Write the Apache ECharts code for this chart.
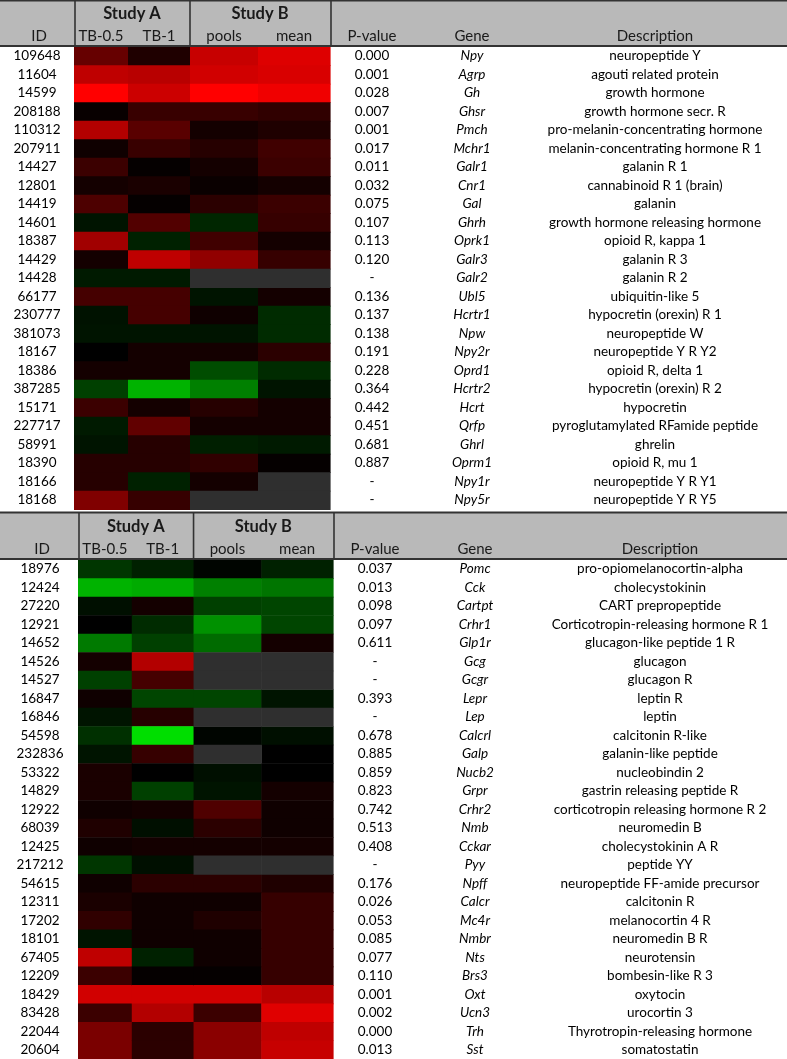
<!DOCTYPE html>
<html><head><meta charset="utf-8">
<script src="https://cdn.jsdelivr.net/npm/echarts/dist/echarts.min.js"></script>
<style>html,body{margin:0;padding:0;background:#fff}#c{width:787px;height:1059px}</style>
</head><body><div id="c"></div>
<script>
// ---------- DATA ----------
const columns = ['TB-0.5', 'TB-1', 'pools', 'mean'];
const studies = ['Study A', 'Study B'];
const textHeaders = ['ID', 'P-value', 'Gene', 'Description'];

const topIds = ['109648','11604','14599','208188','110312','207911','14427','12801','14419','14601','18387','14429','14428','66177','230777','381073','18167','18386','387285','15171','227717','58991','18390','18166','18168'];
const topP = ['0.000','0.001','0.028','0.007','0.001','0.017','0.011','0.032','0.075','0.107','0.113','0.120','-','0.136','0.137','0.138','0.191','0.228','0.364','0.442','0.451','0.681','0.887','-','-'];
const topGenes = ['Npy','Agrp','Gh','Ghsr','Pmch','Mchr1','Galr1','Cnr1','Gal','Ghrh','Oprk1','Galr3','Galr2','Ubl5','Hcrtr1','Npw','Npy2r','Oprd1','Hcrtr2','Hcrt','Qrfp','Ghrl','Oprm1','Npy1r','Npy5r'];
const topDesc = ['neuropeptide Y','agouti related protein','growth hormone','growth hormone secr. R','pro-melanin-concentrating hormone','melanin-concentrating hormone R 1','galanin R 1','cannabinoid R 1 (brain)','galanin','growth hormone releasing hormone','opioid R, kappa 1','galanin R 3','galanin R 2','ubiquitin-like 5','hypocretin (orexin) R 1','neuropeptide W','neuropeptide Y R Y2','opioid R, delta 1','hypocretin (orexin) R 2','hypocretin','pyroglutamylated RFamide peptide','ghrelin','opioid R, mu 1','neuropeptide Y R Y1','neuropeptide Y R Y5'];
// signed intensity: + red, - green, null = not measured
const topTB05 = [0.40,0.75,1.00,0.03,0.70,0.06,0.23,0.08,0.30,-0.08,0.63,0.08,-0.10,0.27,-0.07,-0.08,0.00,0.08,-0.25,0.23,-0.10,-0.08,0.15,0.15,0.50];
const topTB1  = [0.12,0.72,0.80,0.22,0.35,0.22,0.02,0.10,0.02,0.32,-0.13,0.75,-0.10,0.27,0.27,-0.08,0.08,0.08,-0.70,0.08,0.38,0.15,0.15,-0.13,0.21];
const topPools= [0.78,0.82,1.00,0.22,0.08,0.15,0.08,0.04,0.17,-0.15,0.25,0.57,null,-0.08,0.06,-0.08,0.08,-0.30,-0.50,0.15,0.08,-0.12,0.19,0.08,null];
const topMean = [0.87,0.85,0.94,0.19,0.12,0.25,0.23,0.08,0.23,0.21,0.08,0.21,null,0.08,-0.17,-0.17,0.17,-0.17,-0.08,0.08,0.08,-0.10,0.02,null,null];

const botIds = ['18976','12424','27220','12921','14652','14526','14527','16847','16846','54598','232836','53322','14829','12922','68039','12425','217212','54615','12311','17202','18101','67405','12209','18429','83428','22044','20604'];
const botP = ['0.037','0.013','0.098','0.097','0.611','-','-','0.393','-','0.678','0.885','0.859','0.823','0.742','0.513','0.408','-','0.176','0.026','0.053','0.085','0.077','0.110','0.001','0.002','0.000','0.013'];
const botGenes = ['Pomc','Cck','Cartpt','Crhr1','Glp1r','Gcg','Gcgr','Lepr','Lep','Calcrl','Galp','Nucb2','Grpr','Crhr2','Nmb','Cckar','Pyy','Npff','Calcr','Mc4r','Nmbr','Nts','Brs3','Oxt','Ucn3','Trh','Sst'];
const botDesc = ['pro-opiomelanocortin-alpha','cholecystokinin','CART prepropeptide','Corticotropin-releasing hormone R 1','glucagon-like peptide 1 R','glucagon','glucagon R','leptin R','leptin','calcitonin R-like','galanin-like peptide','nucleobindin 2','gastrin releasing peptide R','corticotropin releasing hormone R 2','neuromedin B','cholecystokinin A R','peptide YY','neuropeptide FF-amide precursor','calcitonin R','melanocortin 4 R','neuromedin B R','neurotensin','bombesin-like R 3','oxytocin','urocortin 3','Thyrotropin-releasing hormone','somatostatin'];
const botTB05 = [-0.21,-0.70,-0.06,0.00,-0.48,0.08,-0.25,0.06,-0.08,-0.19,-0.08,0.10,0.10,0.06,0.12,0.06,-0.21,0.06,0.10,0.19,-0.08,0.75,0.23,0.82,0.23,0.48,0.48];
const botTB1  = [-0.13,-0.67,0.08,-0.17,-0.25,0.70,0.27,-0.27,0.15,-0.87,0.21,0.00,-0.25,0.08,-0.06,0.08,-0.06,0.17,0.06,0.06,0.06,-0.13,0.02,0.82,0.70,0.17,0.17];
const botPools= [-0.02,-0.50,-0.25,-0.57,-0.42,null,null,-0.27,null,-0.02,null,-0.06,-0.08,0.31,0.17,0.08,null,0.17,0.06,0.12,0.06,0.06,0.02,0.82,0.23,0.54,0.54];
const botMean = [-0.13,-0.46,-0.27,-0.27,0.08,null,null,-0.08,null,-0.06,0.00,0.00,0.08,0.06,0.06,0.08,null,0.12,0.21,0.21,0.21,0.21,0.21,0.72,0.88,0.75,0.78];

// ---------- LAYOUT ----------
const FONT = 'Lato, "Open Sans", sans-serif';
const EDGES = [0, 54, 116, 184, 256];   // relative column boundaries of the heat block
const panels = [
  { ids: topIds, p: topP, genes: topGenes, desc: topDesc, cols: [topTB05, topTB1, topPools, topMean],
    left: 74, top: 46.8, width: 256, headTop: 0, headBot: 46, idC: 37, pC: 372, gC: 472, dC: 655 },
  { ids: botIds, p: botP, genes: botGenes, desc: botDesc, cols: [botTB05, botTB1, botPools, botMean],
    left: 78, top: 559.8, width: 255, headTop: 512, headBot: 559, idC: 40, pC: 375, gC: 475, dC: 660 }
];
const ROWH = 18.5;

const chart = echarts.init(document.getElementById('c'), null, { renderer: 'canvas' });

const grids = [], xAxes = [], yAxes = [], series = [];
panels.forEach((P, g) => {
  const n = P.ids.length;
  grids.push({ left: P.left, top: P.top, width: P.width, height: n * ROWH, containLabel: false });
  xAxes.push({ gridIndex: g, type: 'value', min: 0, max: EDGES[EDGES.length - 1], show: false });
  const right = P.left + P.width;
  const base = { gridIndex: g, type: 'category', inverse: true, axisLine: { show: false }, axisTick: { show: false }, splitLine: { show: false } };
  const lab = { interval: 0, align: 'center', fontSize: 13.5, color: '#000', fontFamily: FONT };
  P.yStart = yAxes.length;
  yAxes.push(Object.assign({}, base, { data: P.ids, position: 'left', axisLabel: Object.assign({}, lab, { margin: P.left - P.idC }) }));
  yAxes.push(Object.assign({}, base, { data: P.p, position: 'right', axisLabel: Object.assign({}, lab, { margin: P.pC - right }) }));
  yAxes.push(Object.assign({}, base, { data: P.genes, position: 'right', axisLabel: Object.assign({}, lab, { margin: P.gC - right, fontStyle: 'italic' }) }));
  yAxes.push(Object.assign({}, base, { data: P.desc, position: 'right', axisLabel: Object.assign({}, lab, { margin: P.dC - right }) }));

  const heat = [], missing = [];
  P.cols.forEach((arr, c) => arr.forEach((v, r) => {
    if (v === null) missing.push([c, r]); else heat.push([c, r, v]);
  }));
  const render = (fillFn) => (params, api) => {
    const c = api.value(0), r = api.value(1);
    const p0 = api.coord([EDGES[c], r]);
    const p1 = api.coord([EDGES[c + 1], r]);
    const h = api.size([0, 1])[1];
    return { type: 'rect', shape: { x: p0[0], y: p0[1] - h / 2, width: p1[0] - p0[0] + 0.6, height: h + 0.6 },
             style: { fill: fillFn(api) } };
  };
  series.push({ type: 'custom', name: 'heat' + g, xAxisIndex: g, yAxisIndex: P.yStart, data: heat,
    encode: { x: 0, y: 1 }, renderItem: render(api => api.visual('color')), silent: true });
  series.push({ type: 'custom', name: 'na' + g, xAxisIndex: g, yAxisIndex: P.yStart, data: missing,
    encode: { x: 0, y: 1 }, renderItem: render(() => '#2f2f2f'), silent: true });
});

chart.setOption({
  animation: false,
  backgroundColor: '#ffffff',
  grid: grids, xAxis: xAxes, yAxis: yAxes, series: series,
  visualMap: { type: 'continuous', show: false, dimension: 2, seriesIndex: [0, 2], min: -1, max: 1,
               inRange: { color: ['#00ff00', '#000000', '#ff0000'] } }
});

// ---------- HEADERS ----------
const graphics = [];
const HEAD = '#b9b9b9', LINE = '#333333';
panels.forEach((P, g) => {
  const xp = v => chart.convertToPixel({ xAxisIndex: g }, v);
  const L = xp(EDGES[0]), M = xp(EDGES[2]), R = xp(EDGES[4]);
  const hT = P.headTop, hB = P.headBot;
  graphics.push({ type: 'rect', shape: { x: 0, y: hT, width: 787, height: hB - hT }, style: { fill: HEAD }, z: 1 });
  graphics.push({ type: 'line', shape: { x1: 0, y1: hT + 0.5, x2: 787, y2: hT + 0.5 }, style: { stroke: LINE, lineWidth: 2 }, z: 2 });
  graphics.push({ type: 'line', shape: { x1: 0, y1: hB, x2: 787, y2: hB }, style: { stroke: LINE, lineWidth: 2 }, z: 2 });
  [L + 1, M, R + 1].forEach(x => graphics.push({ type: 'line', shape: { x1: x, y1: hT, x2: x, y2: hB }, style: { stroke: LINE, lineWidth: 1.6 }, z: 2 }));
  const txt = (s, x, y, opt) => graphics.push({ type: 'text', x: x, y: y, z: 3,
    style: Object.assign({ text: s, fill: '#1a1a1a', font: '15px ' + FONT, textAlign: 'center', textVerticalAlign: 'middle' }, opt || {}) });
  txt(studies[0], (L + M) / 2, hB - 32, { font: 'bold 16.5px ' + FONT });
  txt(studies[1], (M + R) / 2, hB - 32, { font: 'bold 16.5px ' + FONT });
  columns.forEach((c, i) => txt(c, xp((EDGES[i] + EDGES[i + 1]) / 2), hB - 10));
  txt(textHeaders[0], P.idC + 2, hB - 10);
  txt(textHeaders[1], P.pC, hB - 10);
  txt(textHeaders[2], P.gC, hB - 10);
  txt(textHeaders[3], P.dC, hB - 10);
});
chart.setOption({ graphic: { elements: graphics } });
</script>
</body></html>
